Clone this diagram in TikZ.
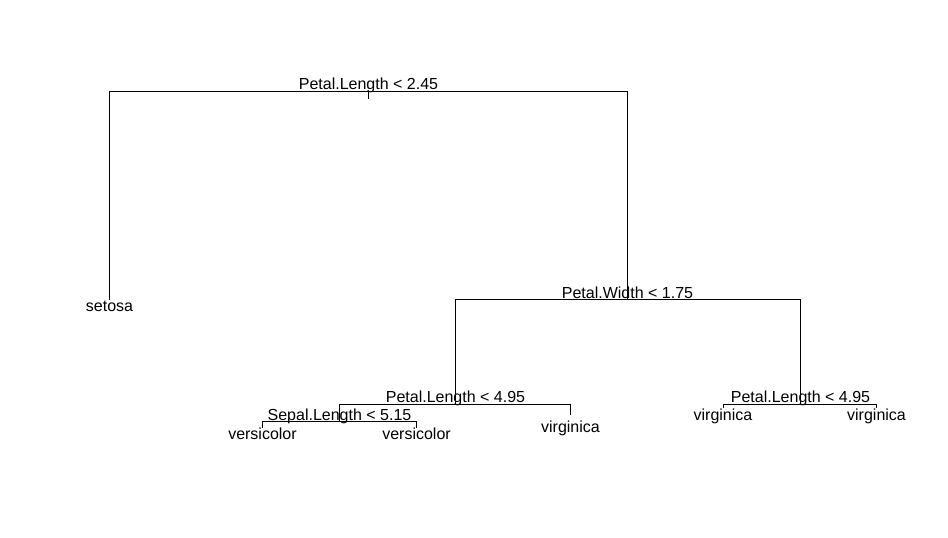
\documentclass[tikz,border=0pt]{standalone}
\usepackage{fontspec}
\setmainfont{Liberation Sans}

\tikzset{
	branch/.style={line width=0.8pt, color=black},
	splitlabel/.style={anchor=base, inner sep=0pt, font=\fontsize{12}{14}\selectfont},
	leaflabel/.style={anchor=base, inner sep=0pt, font=\fontsize{12}{14}\selectfont}
}

\begin{document}
\begin{tikzpicture}[x=0.75pt, y=-0.75pt]
			%%%%% START %%%%%
			
			\useasboundingbox (0, 0) rectangle (948, 538);
			
			\coordinate (root) at (368.5, 91.5);
			\coordinate (stub) at (368.5, 99.5);
			\coordinate (setosa) at (109.5, 299.5);
			\coordinate (pwidth) at (627.5, 299.5);
			\coordinate (plenL) at (455.5, 404.5);
			\coordinate (plenR) at (800.5, 404.5);
			\coordinate (slen) at (339.5, 421.5);
			\coordinate (vcolA) at (262.5, 427.5);
			\coordinate (vcolB) at (416.5, 427.5);
			\coordinate (vgnA) at (570.5, 414.5);
			\coordinate (vgnB) at (723.5, 407.5);
			\coordinate (vgnC) at (876.5, 407.5);
			
			\draw[branch] (setosa) |- (root) -| (pwidth);
			\draw[branch] (root) -- (stub);
			\draw[branch] (plenL) |- (pwidth) -| (plenR);
			\draw[branch] (slen) |- (plenL) -| (vgnA);
			\draw[branch] (vcolA) |- (slen) -| (vcolB);
			\draw[branch] (vgnB) |- (plenR) -| (vgnC);
			
			\node[splitlabel] (lroot) at (368.5, 89.5) {Petal.Length < 2.45};
			\node[splitlabel] (lpwidth) at (627.5, 298) {Petal.Width < 1.75};
			\node[splitlabel] (lplenL) at (455.5, 402) {Petal.Length < 4.95};
			\node[splitlabel] (lplenR) at (800.5, 402) {Petal.Length < 4.95};
			\node[splitlabel] (lslen) at (339.5, 420) {Sepal.Length < 5.15};
			
			\node[leaflabel] (tsetosa) at (109.5, 311.5) {setosa};
			\node[leaflabel] (tvcolA) at (262.5, 439) {versicolor};
			\node[leaflabel] (tvcolB) at (416.5, 439) {versicolor};
			\node[leaflabel] (tvgnA) at (570.5, 432) {virginica};
			\node[leaflabel] (tvgnB) at (723, 420) {virginica};
			\node[leaflabel] (tvgnC) at (876.5, 420) {virginica};
			
			%%%%% END %%%%%
		\end{tikzpicture}
\end{document}
